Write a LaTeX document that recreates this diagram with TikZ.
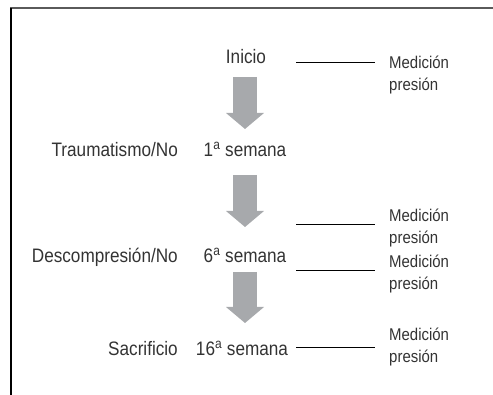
\documentclass[tikz,border=0pt]{standalone}
\usepackage{fontspec}
\setmainfont{Liberation Sans}[FakeStretch=0.88]
\usetikzlibrary{positioning}
\usetikzlibrary{arrows.meta}
\definecolor{txtgray}{HTML}{333333}
\definecolor{arrgray}{HTML}{A7A9AC}
\definecolor{framegray}{HTML}{5A5A5A}

\begin{document}
\begin{tikzpicture}[
        x=1pt, y=-1pt,
        lbl/.style = {text=txtgray, font=\fontsize{19.5}{23}\selectfont, text height=14pt, text depth=0pt, inner sep=0pt},
        meas/.style = {text=txtgray, font=\fontsize{17}{22}\selectfont, align=left, anchor=base west, inner sep=0pt},
        bigarrow/.style = {draw=arrgray, line width=24pt, -{Triangle[length=16pt,width=38pt,line width=0pt]}},
        link/.style = {black, line width=0.8pt, shorten >=14pt}
    ]
    \useasboundingbox (0,0) rectangle (493,395);
    \draw[framegray, line width=2pt] (10,8) -- (493,8);
    \draw[black, line width=1.4pt] (11,8) -- (11,395);

    \node[lbl] (ini) at (246,57) {Inicio};
    \node[lbl] (s1) at (245,150) {1\textsuperscript{a} semana};
    \node[lbl] (s6) at (245,256) {6\textsuperscript{a} semana};
    \node[lbl] (s16) at (242,349) {16\textsuperscript{a} semana};

    \node[lbl, anchor=east] (trau) at (178,150) {Traumatismo/No};
    \node[lbl, anchor=east] (desc) at (178,256) {Descompresión/No};
    \node[lbl, anchor=east] (sacr) at (178,349) {Sacrificio};

    \node[meas] (m1) at (389,91) {Medición\\presión};
    \node[meas] (m2) at (389,244) {Medición\\presión};
    \node[meas] (m3) at (389,290) {Medición\\presión};
    \node[meas] (m4) at (389,363) {Medición\\presión};

    \draw[bigarrow] ([xshift=-1pt,yshift=-20pt]ini.center) -- ([yshift=21pt]s1.center);
    \draw[bigarrow] ([yshift=-25pt]s1.center) -- ([yshift=29pt]s6.center);
    \draw[bigarrow] ([yshift=-16pt]s6.center) -- ([xshift=3pt,yshift=26pt]s16.center);

    % line ends at the Medición blocks
    \coordinate (lx) at (296,0);
    \coordinate (e1) at ([yshift=29pt]m1.base west);
    \coordinate (e2) at ([yshift=20pt]m2.base west);
    \coordinate (e3) at ([yshift=20pt]m3.base west);
    \coordinate (e4) at ([yshift=16pt]m4.base west);
    \draw[link] (lx |- e1) -- (e1);
    \draw[link] (lx |- e2) -- (e2);
    \draw[link] (lx |- e3) -- (e3);
    \draw[link] (lx |- e4) -- (e4);
\end{tikzpicture}
\end{document}
